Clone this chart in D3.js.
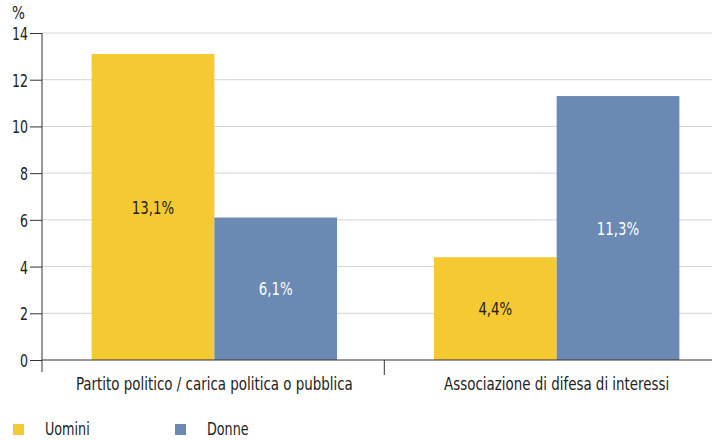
<!DOCTYPE html>
<html><head><meta charset="utf-8">
<script src="https://cdn.jsdelivr.net/npm/d3@7"></script>
<style>
body{margin:0;background:#fff;}
svg text{font-family:"DejaVu Sans",sans-serif;}
</style></head>
<body><svg id="c" width="716" height="440"></svg>
<script>
const categories = ["Partito politico / carica politica o pubblica", "Associazione di difesa di interessi"];
const seriesNames = ["Uomini", "Donne"];
const uomini = [13.1, 4.4];
const donne = [6.1, 11.3];
const yTicks = [0, 2, 4, 6, 8, 10, 12, 14];
const colors = ["#F4C932", "#6A8AB4"];
const values = [uomini, donne];

const svg = d3.select("#c");
const x0 = 42, x1 = 729, yTop = 33, yBot = 360, gridEnd = 712;
const x = d3.scaleBand().domain(categories).range([x0, x1]).paddingInner(0.283).paddingOuter(0.145);
const xs = d3.scaleBand().domain(seriesNames).range([0, x.bandwidth()]);
const y = d3.scaleLinear().domain([0, 14]).range([yBot, yTop]);

// condensed text helper
function ctext(sel, px, py, sx) {
  return sel.attr("x", 0).attr("y", 0)
    .attr("transform", (d, i) => `translate(${typeof px === "function" ? px(d, i) : px},${typeof py === "function" ? py(d, i) : py}) scale(${sx},1)`);
}

// gridlines
svg.append("g").selectAll("line").data(yTicks.filter(d => d > 0)).join("line")
  .attr("x1", x0).attr("x2", gridEnd).attr("y1", d => y(d)).attr("y2", d => y(d))
  .attr("stroke", "#d4d4d4").attr("stroke-width", 1);

// bars
const grp = svg.append("g").selectAll("g").data(categories).join("g")
  .attr("transform", d => `translate(${x(d)},0)`);
grp.selectAll("rect").data((d, i) => seriesNames.map((s, j) => ({s, j, v: values[j][i]}))).join("rect")
  .attr("x", d => xs(d.s)).attr("width", xs.bandwidth())
  .attr("y", d => y(d.v)).attr("height", d => yBot - y(d.v))
  .attr("fill", d => colors[d.j]);
ctext(grp.selectAll("text").data((d, i) => seriesNames.map((s, j) => ({s, j, v: values[j][i]}))).join("text"),
    d => xs(d.s) + xs.bandwidth() / 2, d => (y(d.v) + yBot) / 2 + 6.5, 0.74)
  .attr("text-anchor", "middle")
  .attr("font-size", 18)
  .attr("fill", d => d.j === 0 ? "#222" : "#fff")
  .text(d => d.v.toFixed(1).replace(".", ",") + "%");

// y axis
const ya = svg.append("g").attr("transform", `translate(${x0},0)`)
  .call(d3.axisLeft(y).tickValues(yTicks).tickSize(12).tickPadding(3).tickSizeOuter(0));
ya.select(".domain").attr("d", `M0,${yTop}V${yBot + 12}`).attr("stroke", "#333");
ya.selectAll(".tick line").attr("stroke", "#333");
ya.selectAll(".tick text").attr("font-size", 18).attr("fill", "#222")
  .attr("x", 0).attr("dy", null).attr("y", 0)
  .attr("transform", "translate(-14,6.5) scale(0.7,1)");

// x axis baseline
svg.append("line").attr("x1", x0).attr("x2", gridEnd).attr("y1", yBot).attr("y2", yBot)
  .attr("stroke", "#333").attr("stroke-width", 1);
// category divider ticks
const step = x.step();
svg.append("g").selectAll("line").data([x0 + step]).join("line")
  .attr("x1", d => d).attr("x2", d => d).attr("y1", yBot).attr("y2", yBot + 15)
  .attr("stroke", "#333");
// category labels
ctext(svg.append("g").selectAll("text").data(categories).join("text"),
    d => x(d) + x.bandwidth() / 2, 390, 0.79)
  .attr("text-anchor", "middle").attr("font-size", 17).attr("fill", "#222")
  .text(d => d);

// % label
ctext(svg.append("text"), 12, 19, 0.8).attr("font-size", 17).attr("fill", "#222").text("%");

// legend
const lx = [13, 175];
const lg = svg.append("g").selectAll("g").data(seriesNames).join("g")
  .attr("transform", (d, i) => `translate(${lx[i]},424)`);
lg.append("rect").attr("width", 11).attr("height", 11).attr("fill", (d, i) => colors[i]);
ctext(lg.append("text"), 32, 11, 0.75).attr("font-size", 17).attr("fill", "#222").text(d => d);
</script></body></html>
